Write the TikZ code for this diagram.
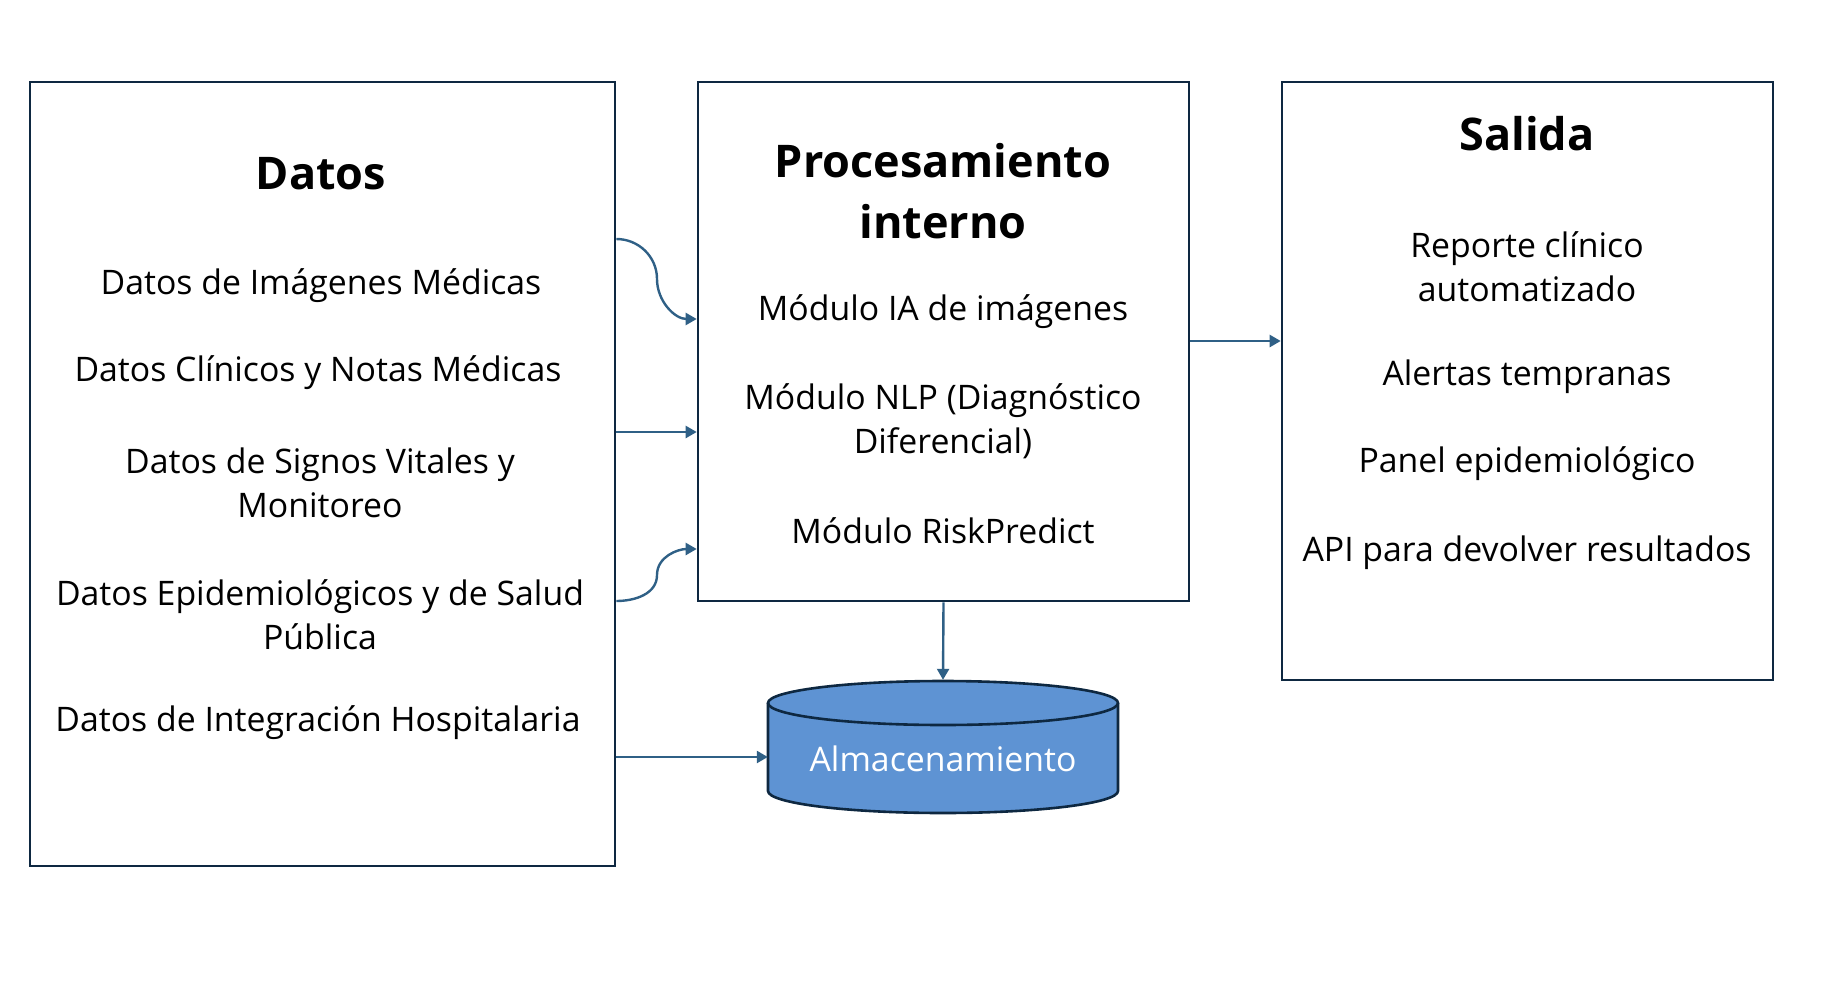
\documentclass[tikz,border=0pt]{standalone}
\usepackage{fontspec}
\setmainfont{Open Sans}
\usetikzlibrary{arrows.meta}
\definecolor{boxline}{HTML}{0E2841}
\definecolor{arr}{HTML}{2F6086}
\definecolor{cylfill}{HTML}{5E93D3}
\begin{document}
\begin{tikzpicture}[x=1pt,y=-1pt,
  panel/.style={draw=boxline, line width=2.6pt, inner sep=0pt},
  ttl/.style={font=\fontsize{45}{61}\selectfont\bfseries, align=center, inner sep=0pt},
  itm/.style={font=\fontsize{33.8}{44}\selectfont, align=center, inner sep=0pt},
  conn/.style={draw=arr, line width=2.4pt, -{Triangle[length=11pt,width=12pt]}}]
\useasboundingbox (0,0) rectangle (1830,990);
% panels
\node[panel, minimum width=585pt, minimum height=784pt] (datos) at (322.5,474) {};
\node[panel, minimum width=491pt, minimum height=519pt] (proc) at (943.5,341.5) {};
\node[panel, minimum width=491pt, minimum height=598pt] (salida) at (1527.5,381) {};
% cylinder
\node[minimum width=350pt, minimum height=133pt, inner sep=0pt] (cyl) at (943,746.5) {};
\fill[cylfill] (768,703) -- (768,791) arc[start angle=180, end angle=360, x radius=175, y radius=-22] -- (1118,703) arc[start angle=0, end angle=180, x radius=175, y radius=-22] -- cycle;
\draw[boxline, line width=2.6pt] (768,703) -- (768,791) arc[start angle=180, end angle=360, x radius=175, y radius=-22] -- (1118,703);
\draw[boxline, line width=2.6pt] (943,703) ellipse[x radius=175, y radius=22];
\node[itm, text=white] (alm) at (943,759) {Almacenamiento};
% texts
\node[ttl] (t1) at (321,174) {Datos};
\node[itm] (d1) at (321,286) {Datos de Imágenes Médicas};
\node[itm] (d2) at (318,373) {Datos Clínicos y Notas Médicas};
\node[itm] (d3) at (320,483) {Datos de Signos Vitales y\\Monitoreo};
\node[itm] (d4) at (320,615) {Datos Epidemiológicos y de Salud\\Pública};
\node[itm] (d5) at (318,723) {Datos de Integración Hospitalaria};
\node[ttl] (t2) at (943,191) {Procesamiento\\interno};
\node[itm] (p1) at (943,312) {Módulo IA de imágenes};
\node[itm] (p2) at (943,421) {Módulo NLP (Diagnóstico\\Diferencial)};
\node[itm] (p3) at (943,531) {Módulo RiskPredict};
\node[ttl] (t3) at (1527,134) {Salida};
\node[itm] (s1) at (1527,267) {Reporte clínico\\automatizado};
\node[itm] (s2) at (1527,377) {Alertas tempranas};
\node[itm] (s3) at (1527,464) {Panel epidemiológico};
\node[itm] (s4) at (1527,553) {API para devolver resultados};
% connectors
\coordinate (a1s) at (datos.east |- 0,239);
\coordinate (a1e) at (proc.west |- 0,319);
\draw[conn] (a1s) to[out=0,in=90] (657,279) to[out=-90,in=180] (a1e);
\coordinate (a2s) at (datos.east |- 0,432);
\coordinate (a2e) at (proc.west |- 0,432);
\draw[conn] (a2s) -- (a2e);
\coordinate (a3s) at (datos.east |- 0,601);
\coordinate (a3e) at (proc.west |- 0,549);
\draw[conn] (a3s) to[out=0,in=-90] (657,575) to[out=90,in=180] (a3e);
\coordinate (a4s) at (datos.east |- 0,757);
\coordinate (a4e) at (cyl.west |- 0,757);
\draw[conn] (a4s) -- (a4e);
\draw[conn] (proc.south) -- (cyl.north);
\coordinate (a6s) at (proc.east |- 0,341);
\coordinate (a6e) at (salida.west |- 0,341);
\draw[conn] (a6s) -- (a6e);
\end{tikzpicture}
\end{document}
